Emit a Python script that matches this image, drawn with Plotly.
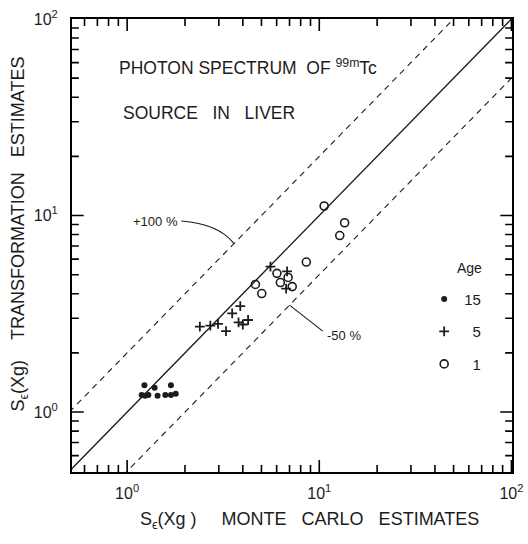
import math
import plotly.graph_objects as go

# Monte Carlo estimate (x) vs transformation estimate (y), S_e(Xg), by age group
age15_x = [1.23, 1.39, 1.69, 1.19, 1.24, 1.29, 1.44, 1.58, 1.69, 1.79]
age15_y = [1.37, 1.33, 1.37, 1.22, 1.21, 1.22, 1.21, 1.22, 1.22, 1.24]

age5_x = [2.39, 2.71, 2.97, 3.27, 3.52, 3.88, 3.80, 4.00, 4.26, 5.57, 6.80, 6.72]
age5_y = [2.72, 2.75, 2.81, 2.58, 3.18, 3.46, 2.86, 2.79, 2.94, 5.50, 5.20, 4.25]

age1_x = [4.65, 5.02, 6.02, 6.27, 6.88, 7.23, 8.56, 10.6, 13.55, 12.78]
age1_y = [4.46, 4.01, 5.08, 4.56, 4.84, 4.35, 5.80, 11.18, 9.19, 7.91]

# reference lines: identity, +100 % and -50 %
ref_x = [0.5, 100]
ref_ratios = [1.0, 2.0, 0.5]
ref_dash = ["solid", "6px,5px", "6px,5px"]

major_vals = [1, 10, 100]
major_text = ["10<sup>0</sup>", "10<sup>1</sup>", "10<sup>2</sup>"]
minor_vals = [0.6, 0.7, 0.8, 0.9, 2, 3, 4, 5, 6, 7, 8, 9,
              20, 30, 40, 50, 60, 70, 80, 90]

FONT = "Liberation Sans, Arial, sans-serif"
INK = "#1c1c1c"
XR = [-0.287, 2.003]
YR = [-0.305, 2.0]
W, H = 528, 544
M = dict(l=72, r=5, t=19, b=72)
PW = W - M["l"] - M["r"]
PH = H - M["t"] - M["b"]

fig = go.Figure()

for r, d in zip(ref_ratios, ref_dash):
    fig.add_trace(go.Scatter(
        x=ref_x, y=[r * v for v in ref_x], mode="lines",
        line=dict(color=INK, width=1.3 if d == "solid" else 1.1, dash=d),
        showlegend=False, hoverinfo="skip"))

fig.add_trace(go.Scatter(
    x=age15_x, y=age15_y, mode="markers", name="15", legendgroup="a15",
    marker=dict(symbol="circle", size=6, color=INK)))
fig.add_trace(go.Scatter(
    x=age5_x, y=age5_y, mode="markers", name="\u20075", legendgroup="a5",
    marker=dict(symbol="cross-thin", size=7, color=INK,
                line=dict(color=INK, width=1.8))))
fig.add_trace(go.Scatter(
    x=age1_x, y=age1_y, mode="markers", name="\u20071", legendgroup="a1",
    marker=dict(symbol="circle-open", size=8, color=INK,
                line=dict(color=INK, width=1.6))))


def fx(v):
    """x data value -> paper fraction on the log axis"""
    return (math.log10(v) - XR[0]) / (XR[1] - XR[0])


def fy(v):
    """y data value -> paper fraction on the log axis"""
    return (math.log10(v) - YR[0]) / (YR[1] - YR[0])


axis_common = dict(
    type="log", showgrid=False, zeroline=False,
    showline=True, linecolor="black", linewidth=2, mirror=True,
    ticks="", tickmode="array", tickvals=major_vals, ticktext=major_text,
    tickfont=dict(family=FONT, size=16, color=INK),
    ticklabeloverflow="allow",
)

# inward tick marks on all four sides (major long, minor short),
# drawn as one path per side
paths = []
for vals, length in ((major_vals, 12), (minor_vals, 7)):
    ly = length / PH
    lx = length / PW
    for v in vals:
        if XR[0] < math.log10(v) < XR[1]:
            px = fx(v)
            paths.append(f"M {px:.5f} 0 L {px:.5f} {ly:.5f}")
            paths.append(f"M {px:.5f} 1 L {px:.5f} {1 - ly:.5f}")
        if YR[0] < math.log10(v) < YR[1]:
            py = fy(v)
            paths.append(f"M 0 {py:.5f} L {lx:.5f} {py:.5f}")
            paths.append(f"M 1 {py:.5f} L {1 - lx:.5f} {py:.5f}")
shapes = [dict(type="path", xref="paper", yref="paper", path=" ".join(paths),
               line=dict(color="black", width=1.6), layer="above")]

# leaders from the percentage labels to their dashed lines
up_x, lo_x = 3.6, 7.0
shapes.append(dict(
    type="path", xref="paper", yref="paper",
    path=f"M 0.2483 0.554 Q 0.3326 0.548 {fx(up_x):.4f} {fy(2.0 * up_x):.4f}",
    line=dict(color=INK, width=1.1)))
shapes.append(dict(
    type="path", xref="paper", yref="paper",
    path=f"M 0.5698 0.311 L {fx(lo_x):.4f} {fy(0.5 * lo_x):.4f}",
    line=dict(color=INK, width=1.1)))

nb = "\u00a0"
annotations = [
    dict(x=0.102, y=0.894, xanchor="left", yanchor="middle",
         text=f"PHOTON SPECTRUM{nb*2}OF <sup>99m</sup>Tc",
         font=dict(family=FONT, size=17.5, color=INK)),
    dict(x=0.111, y=0.7925, xanchor="left", yanchor="middle",
         text=f"SOURCE{nb*3}IN{nb*3}LIVER",
         font=dict(family=FONT, size=17.5, color=INK)),
    dict(x=0.54, y=-0.106, xanchor="center", yanchor="middle",
         text=f"S<sub>\u03f5</sub>(Xg ){nb*5}MONTE{nb*3}CARLO{nb*3}ESTIMATES",
         font=dict(family=FONT, size=18, color=INK)),
    dict(x=-0.1197, y=0.525, xanchor="center", yanchor="middle", textangle=-90,
         text=f"S<sub>\u03f5</sub>(Xg){nb*4}TRANSFORMATION{nb*3}ESTIMATES",
         font=dict(family=FONT, size=18, color=INK)),
    dict(x=0.2461, y=0.554, xanchor="right", yanchor="middle",
         text="+100 %", font=dict(family=FONT, size=13, color=INK)),
    dict(x=0.575, y=0.3024, xanchor="left", yanchor="middle",
         text="-50 %", font=dict(family=FONT, size=13, color=INK)),
    dict(x=0.9035, y=0.45, xanchor="center", yanchor="middle",
         text="Age", font=dict(family=FONT, size=14, color=INK)),
]
for a in annotations:
    a.update(xref="paper", yref="paper", showarrow=False)

fig.update_layout(
    width=W, height=H,
    margin=M,
    paper_bgcolor="white", plot_bgcolor="white",
    font=dict(family=FONT, color=INK),
    xaxis=dict(range=XR, ticklabelstandoff=6, **axis_common),
    yaxis=dict(range=YR, ticklabelstandoff=9, **axis_common),
    annotations=annotations, shapes=shapes,
    showlegend=True,
    legend=dict(x=0.8004, y=0.418, xanchor="left", yanchor="top",
                bgcolor="rgba(0,0,0,0)", traceorder="grouped",
                tracegroupgap=10, itemwidth=30,
                font=dict(family=FONT, size=15, color=INK)),
)

fig.write_html("out.html")
